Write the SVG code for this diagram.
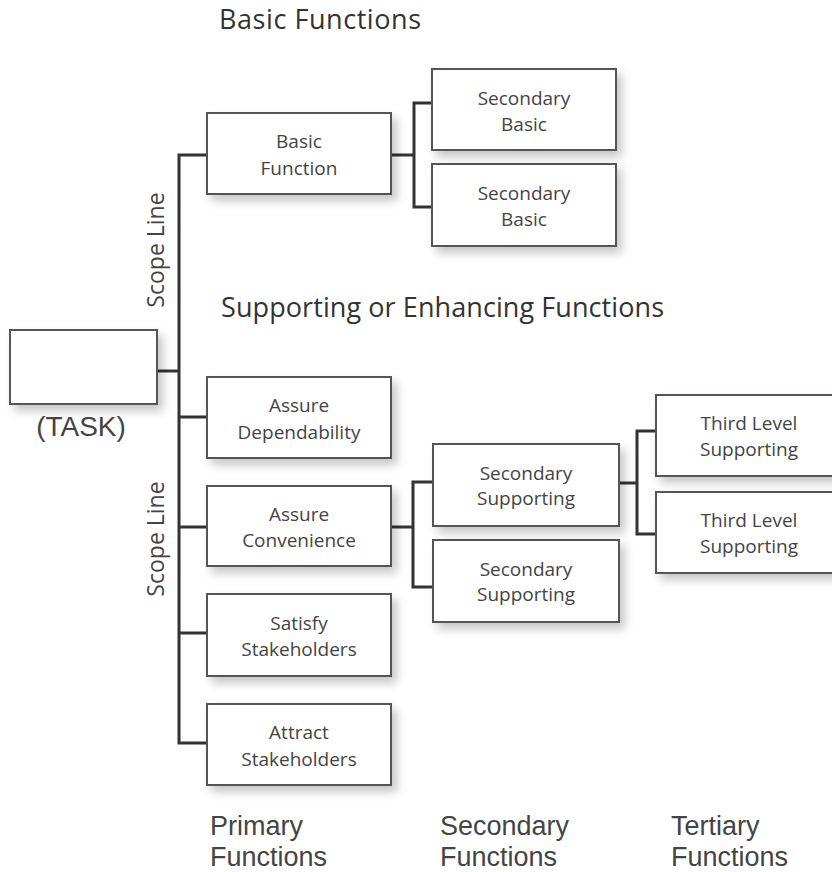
<svg xmlns="http://www.w3.org/2000/svg" width="832" height="872" viewBox="0 0 832 872">
<defs>
<filter id="sh" x="-10%" y="-10%" width="130%" height="140%">
<feDropShadow dx="5" dy="6" stdDeviation="5" flood-color="#000" flood-opacity="0.22"/>
</filter>
</defs>
<style>
.box{fill:#fff;stroke:#555;stroke-width:2;filter:url(#sh)}
.bt{font-family:"Open Sans","DejaVu Sans",sans-serif;font-size:19px;fill:#444;text-anchor:middle}
.hd{font-family:"Open Sans","DejaVu Sans",sans-serif;font-size:27px;fill:#333}
.sc{font-family:"Open Sans","DejaVu Sans",sans-serif;font-size:23px;fill:#444;text-anchor:middle}
.lb{font-family:"Liberation Sans",Arial,sans-serif;font-size:27px;fill:#444}
.cn{fill:none;stroke:#333;stroke-width:3;stroke-linejoin:miter}
</style>
<rect width="832" height="872" fill="#fff"/>

<text class="hd" x="219" y="29" textLength="202" lengthAdjust="spacing">Basic Functions</text>
<text class="hd" x="221" y="317" textLength="443" lengthAdjust="spacing">Supporting or Enhancing Functions</text>
<text class="sc" transform="translate(164,250) rotate(-90)">Scope Line</text>
<text class="sc" transform="translate(164,539) rotate(-90)">Scope Line</text>

<g id="connectors">
<path class="cn" d="M157,371 H179"/>
<path class="cn" d="M207,155 H179 V743 H207"/>
<path class="cn" d="M179,417 H207 M179,527 H207 M179,633 H207"/>
<path class="cn" d="M391,155 H414"/>
<path class="cn" d="M432,103 H414 V207 H432"/>
<path class="cn" d="M391,527 H413"/>
<path class="cn" d="M433,482 H413 V587 H433"/>
<path class="cn" d="M619,483 H637"/>
<path class="cn" d="M656,431 H637 V534 H656"/>
</g>

<g id="task">
<rect class="box" x="10" y="330" width="147" height="74"/>
<text x="81" y="436" font-family="Liberation Sans, Arial, sans-serif" font-size="28" fill="#444" text-anchor="middle">(TASK)</text>
</g>

<g id="basic-function">
<rect class="box" x="207" y="113" width="184" height="81"/>
<text class="bt" x="299" y="148">Basic</text>
<text class="bt" x="299" y="175">Function</text>
</g>
<g id="secondary-basic-1">
<rect class="box" x="432" y="69" width="184" height="81"/>
<text class="bt" x="524" y="105">Secondary</text>
<text class="bt" x="524" y="131">Basic</text>
</g>
<g id="secondary-basic-2">
<rect class="box" x="432" y="164" width="184" height="82"/>
<text class="bt" x="524" y="200">Secondary</text>
<text class="bt" x="524" y="226">Basic</text>
</g>

<g id="assure-dependability">
<rect class="box" x="207" y="377" width="184" height="81"/>
<text class="bt" x="299" y="412">Assure</text>
<text class="bt" x="299" y="439">Dependability</text>
</g>
<g id="assure-convenience">
<rect class="box" x="207" y="486" width="184" height="80"/>
<text class="bt" x="299" y="521">Assure</text>
<text class="bt" x="299" y="547">Convenience</text>
</g>
<g id="satisfy-stakeholders">
<rect class="box" x="207" y="594" width="184" height="82"/>
<text class="bt" x="299" y="630">Satisfy</text>
<text class="bt" x="299" y="656">Stakeholders</text>
</g>
<g id="attract-stakeholders">
<rect class="box" x="207" y="704" width="184" height="81"/>
<text class="bt" x="299" y="739">Attract</text>
<text class="bt" x="299" y="766">Stakeholders</text>
</g>

<g id="secondary-supporting-1">
<rect class="box" x="433" y="444" width="186" height="82"/>
<text class="bt" x="526" y="480">Secondary</text>
<text class="bt" x="526" y="505">Supporting</text>
</g>
<g id="secondary-supporting-2">
<rect class="box" x="433" y="540" width="186" height="82"/>
<text class="bt" x="526" y="576">Secondary</text>
<text class="bt" x="526" y="601">Supporting</text>
</g>

<g id="third-level-1">
<rect class="box" x="656" y="395" width="186" height="81"/>
<text class="bt" x="749" y="430">Third Level</text>
<text class="bt" x="749" y="456">Supporting</text>
</g>
<g id="third-level-2">
<rect class="box" x="656" y="492" width="186" height="81"/>
<text class="bt" x="749" y="527">Third Level</text>
<text class="bt" x="749" y="553">Supporting</text>
</g>

<text class="lb" x="210" y="835">Primary</text>
<text class="lb" x="210" y="866">Functions</text>
<text class="lb" x="440" y="835">Secondary</text>
<text class="lb" x="440" y="866">Functions</text>
<text class="lb" x="671" y="835">Tertiary</text>
<text class="lb" x="671" y="866">Functions</text>
</svg>
